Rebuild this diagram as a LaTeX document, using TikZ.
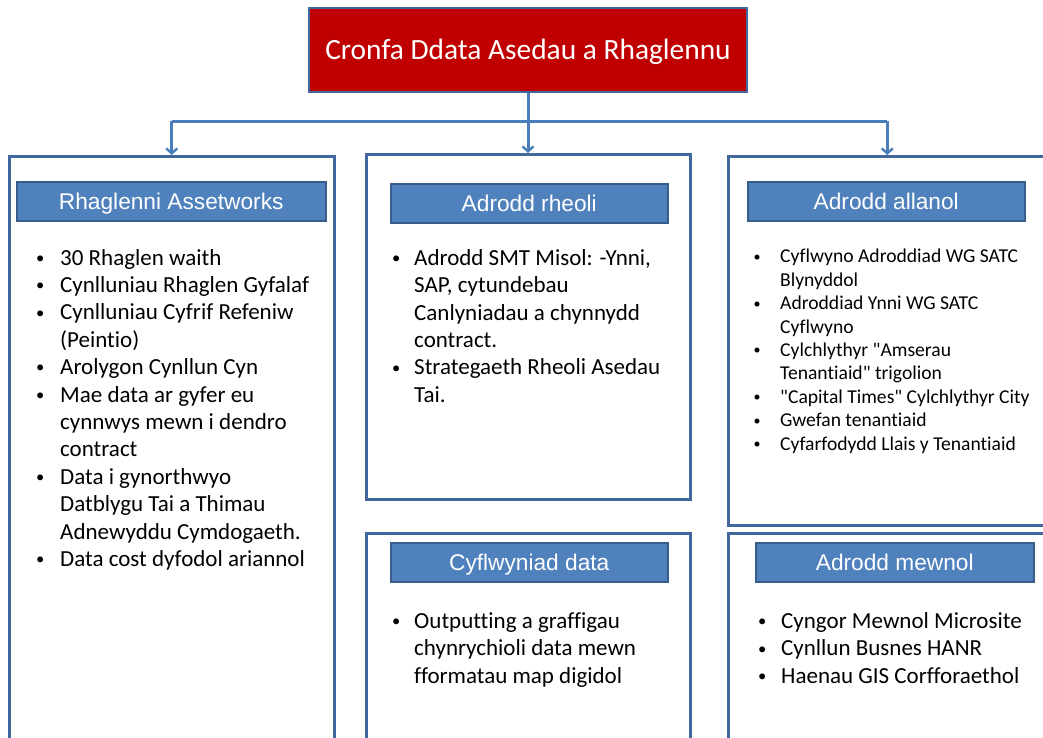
\documentclass[tikz,border=0pt]{standalone}
\usepackage{fontspec}
\setmainfont{Carlito}
\newfontfamily\bodyfont{Carlito}[Ligatures=NoCommon]
\newfontfamily\headfont{Liberation Sans}
\usetikzlibrary{positioning,arrows.meta}

\definecolor{dbred}{HTML}{C00000}
\definecolor{dbedge}{HTML}{41679C}
\definecolor{panelblue}{HTML}{41679C}
\definecolor{headblue}{HTML}{4F81BD}
\definecolor{headedge}{HTML}{385D8A}
\definecolor{linkblue}{HTML}{4A7EBB}

\newcommand{\bl}[1][40pt]{\makebox[#1]{\raisebox{0.08em}{\scalebox{0.72}{\textbullet}}}}

\tikzset{
  panel/.style={draw=panelblue, line width=2.5pt, anchor=north west, inner sep=0pt},
  heading/.style={draw=headedge, fill=headblue, line width=1.5pt, anchor=north west,
    inner sep=0pt, minimum height=39pt, text=white,
    font=\headfont\fontsize{22.7}{26}\selectfont, text height=15.8pt, text depth=0pt},
  points/.style={anchor=north west, inner sep=0pt, font=\bodyfont\fontsize{23}{27.4}\selectfont},
  smallpoints/.style={points, font=\bodyfont\fontsize{19.6}{23.4}\selectfont},
  wire/.style={draw=linkblue, line width=3pt},
  wirearrow/.style={wire, -{Straight Barb[length=5pt,width=11pt,line width=2.4pt]}}
}

\begin{document}
\begin{tikzpicture}[x=1pt, y=-1pt]
\useasboundingbox (0,0) rectangle (1043,737);
\clip (0,0) rectangle (1043,737);

% database box
\node[draw=dbedge, fill=dbred, line width=2.5pt, minimum width=438pt, minimum height=84pt,
  inner sep=0pt, text=white, font=\bodyfont\fontsize{29.4}{34}\selectfont,
  text height=18.9pt, text depth=0pt] (cronfa) at (528,50) {Cronfa Ddata Asedau a Rhaglennu};

% panels
\node[panel, minimum width=325pt, minimum height=620pt] (assetPanel) at (8,155) {};
\node[panel, minimum width=324pt, minimum height=345pt] (rheoliPanel) at (365,153) {};
\node[panel, minimum width=318pt, minimum height=369pt] (allanolPanel) at (727,155) {};
\node[panel, minimum width=324pt, minimum height=250pt] (dataPanel) at (365,532) {};
\node[panel, minimum width=318pt, minimum height=250pt] (mewnolPanel) at (727,532) {};

% headings
\node[heading, minimum width=309pt] (assetHead) at (16,181) {Rhaglenni Assetworks};
\node[heading, minimum width=277pt] (rheoliHead) at (390,183) {Adrodd rheoli};
\node[heading, minimum width=277pt] (allanolHead) at (747,181) {Adrodd allanol};
\node[heading, minimum width=277pt] (dataHead) at (390,542) {Cyflwyniad data};
\node[heading, minimum width=278pt] (mewnolHead) at (755,542) {Adrodd mewnol};

% bullet lists
\node[points] (assetList) at (20,245.8) {%
\begin{tabular}{@{}l@{}l@{}}
\bl & 30 Rhaglen waith\\
\bl & Cynlluniau Rhaglen Gyfalaf\\
\bl & Cynlluniau Cyfrif Refeniw\\
    & (Peintio)\\
\bl & Arolygon Cynllun Cyn\\
\bl & Mae data ar gyfer eu\\
    & cynnwys mewn i dendro\\
    & contract\\
\bl & Data i gynorthwyo\\
    & Datblygu Tai a Thimau\\
    & Adnewyddu Cymdogaeth.\\
\bl & Data cost dyfodol ariannol
\end{tabular}};

\node[points] (rheoliList) at (378,246) {%
\begin{tabular}{@{}l@{}l@{}}
\bl[36pt] & Adrodd SMT Misol: -Ynni,\\
          & SAP, cytundebau\\
          & Canlyniadau a chynnydd\\
          & contract.\\
\bl[36pt] & Strategaeth Rheoli Asedau\\
          & Tai.
\end{tabular}};

\node[smallpoints] (allanolList) at (734,246.3) {%
\begin{tabular}{@{}l@{}l@{}}
\bl[46pt] & Cyflwyno Adroddiad WG SATC\\
          & Blynyddol\\
\bl[46pt] & Adroddiad Ynni WG SATC\\
          & Cyflwyno\\
\bl[46pt] & Cylchlythyr "Amserau\\
          & Tenantiaid" trigolion\\
\bl[46pt] & "Capital Times" Cylchlythyr City\\
\bl[46pt] & Gwefan tenantiaid\\
\bl[46pt] & Cyfarfodydd Llais y Tenantiaid
\end{tabular}};

\node[points] (dataList) at (378,609.1) {%
\begin{tabular}{@{}l@{}l@{}}
\bl[36pt] & Outputting a graffigau\\
          & chynrychioli data mewn\\
          & fformatau map digidol
\end{tabular}};

\node[points] (mewnolList) at (743,609.1) {%
\begin{tabular}{@{}l@{}l@{}}
\bl[38pt] & Cyngor Mewnol Microsite\\
\bl[38pt] & Cynllun Busnes HANR\\
\bl[38pt] & Haenau GIS Corfforaethol
\end{tabular}};

% connectors
\coordinate (split) at ([yshift=-28pt]cronfa.south);
\draw[wire] (assetPanel.north |- split) -- (allanolPanel.north |- split);
\draw[wirearrow] (cronfa.south) -- (cronfa.south |- rheoliPanel.north);
\draw[wirearrow] (assetPanel.north |- split) -- (assetPanel.north);
\draw[wirearrow] (allanolPanel.north |- split) -- (allanolPanel.north);
\end{tikzpicture}
\end{document}
